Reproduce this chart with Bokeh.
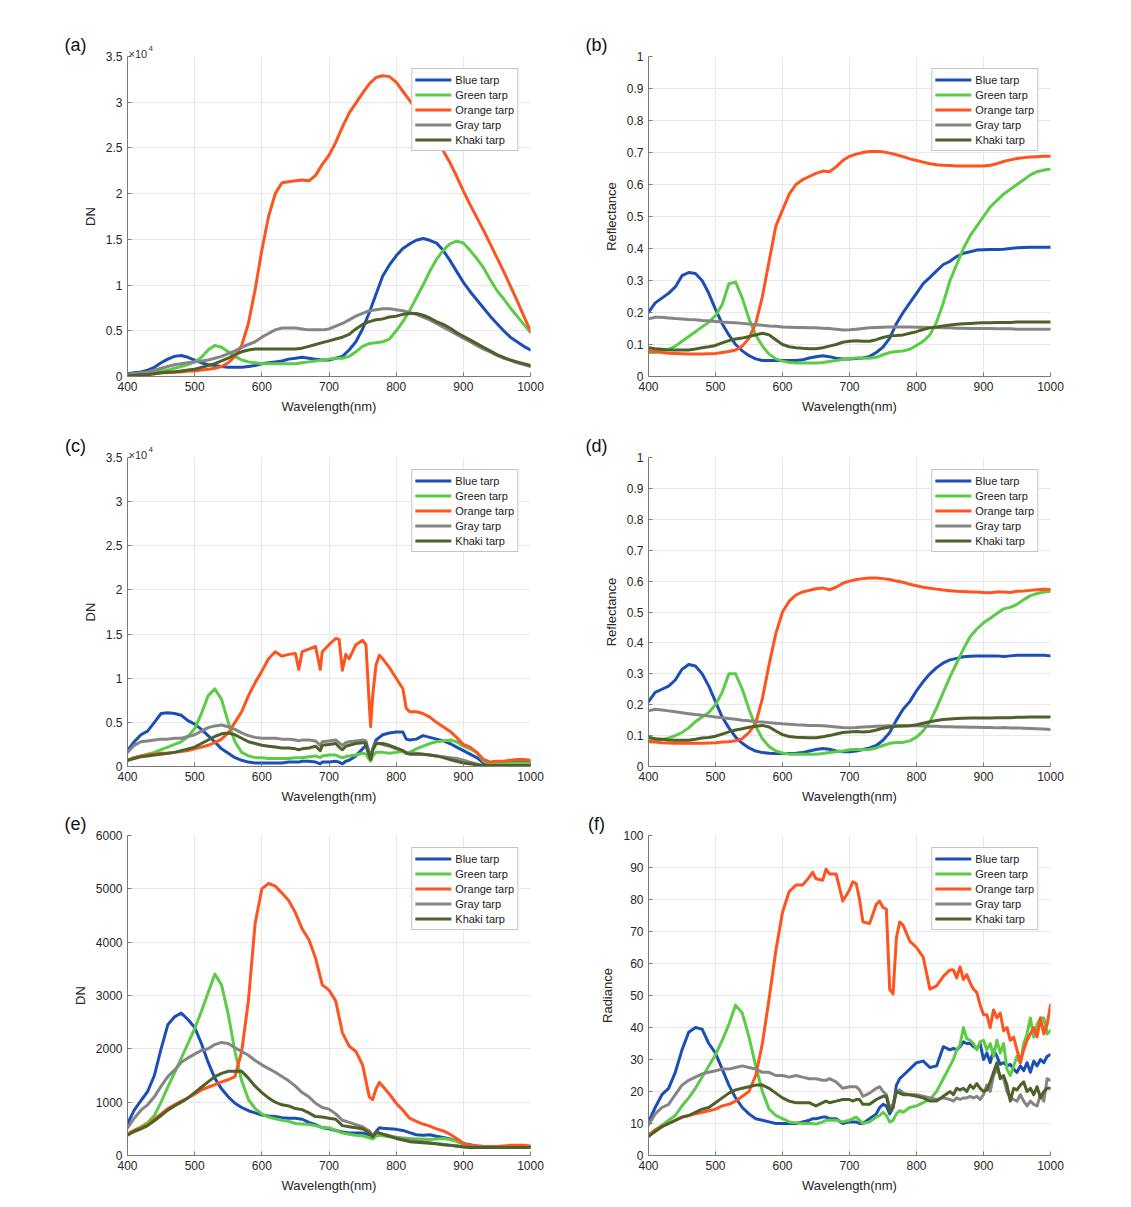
from bokeh.plotting import figure
from bokeh.models import Range1d, FixedTicker, Legend, LegendItem, Label
from bokeh.layouts import column, row
from bokeh.embed import file_html
from bokeh.resources import INLINE

FONT = "Liberation Sans"
NAMES = ["Blue tarp", "Green tarp", "Orange tarp", "Gray tarp", "Khaki tarp"]
COLORS = ["#1c4fb6", "#5ccb48", "#fd5420", "#858585", "#4d6129"]
X_TICKS = [400, 500, 600, 700, 800, 900, 1000]

# ---------------- wavelengths (nm) ----------------
WL10 = [400, 410, 420, 430, 440, 450, 460, 470, 480, 490,
        500, 510, 520, 530, 540, 550, 560, 570, 580, 590,
        600, 610, 620, 630, 640, 650, 660, 670, 680, 690,
        700, 710, 720, 730, 740, 750, 760, 770, 780, 790,
        800, 810, 820, 830, 840, 850, 860, 870, 880, 890,
        900, 910, 920, 930, 940, 950, 960, 970, 980, 990, 1000]

C_WL = [400, 410, 420, 430, 440, 450, 460, 470, 480, 490,
        500, 510, 520, 530, 540, 550, 560, 570, 580, 590,
        600, 610, 620, 630, 640, 650, 655, 660, 670, 680,
        687, 690, 700, 710, 715, 720, 725, 730, 740, 750,
        755, 760, 762, 765, 770, 775, 780, 790, 800, 810,
        815, 820, 830, 840, 850, 860, 870, 880, 890, 900,
        910, 920, 930, 940, 950, 960, 970, 980, 990, 1000]

E_WL = [400, 410, 420, 430, 440, 450, 460, 470, 480, 490,
        500, 510, 520, 530, 540, 550, 560, 570, 580, 590,
        600, 610, 620, 630, 640, 650, 660, 670, 680, 690,
        700, 710, 720, 730, 740, 750, 760, 765, 770, 775,
        780, 790, 800, 810, 820, 830, 840, 850, 860, 870,
        880, 890, 900, 910, 920, 930, 940, 950, 960, 970,
        980, 990, 1000]

F_WL = [400, 410, 420, 430, 440, 450, 460, 470, 480, 490,
        500, 510, 520, 530, 540, 550, 560, 570, 580, 590,
        600, 610, 620, 630, 640, 645, 650, 660, 665, 670,
        680, 690, 700, 705, 710, 715, 720, 730, 740, 745,
        750, 755, 760, 765, 770, 775, 780, 790, 800, 810,
        820, 830, 840, 850, 855, 860, 865, 870, 875, 880,
        885, 890, 895, 900, 905, 910, 915, 920, 925, 930,
        935, 940, 945, 950, 955, 960, 965, 970, 975, 980,
        985, 990, 995, 1000]

# ---------------- (a) DN, x10^4 ----------------
a_blue = [0.03, 0.04, 0.05, 0.07, 0.10, 0.15, 0.19, 0.22, 0.23, 0.21,
          0.18, 0.15, 0.13, 0.12, 0.11, 0.10, 0.10, 0.10, 0.11, 0.12,
          0.14, 0.15, 0.16, 0.17, 0.19, 0.20, 0.21, 0.20, 0.19, 0.18,
          0.18, 0.20, 0.22, 0.29, 0.38, 0.52, 0.70, 0.90, 1.10, 1.22,
          1.32, 1.40, 1.45, 1.49, 1.51, 1.49, 1.46, 1.38, 1.27, 1.15,
          1.03, 0.93, 0.84, 0.75, 0.66, 0.58, 0.50, 0.43, 0.38, 0.33, 0.29]
a_green = [0.02, 0.03, 0.03, 0.04, 0.05, 0.06, 0.07, 0.09, 0.11, 0.13,
           0.16, 0.21, 0.29, 0.34, 0.32, 0.27, 0.22, 0.18, 0.16, 0.15,
           0.14, 0.14, 0.14, 0.14, 0.14, 0.14, 0.15, 0.16, 0.17, 0.18,
           0.19, 0.20, 0.20, 0.22, 0.27, 0.33, 0.36, 0.37, 0.38, 0.41,
           0.50, 0.60, 0.72, 0.86, 1.00, 1.15, 1.28, 1.38, 1.45, 1.48,
           1.46, 1.38, 1.29, 1.19, 1.06, 0.94, 0.85, 0.75, 0.66, 0.57, 0.48]
a_orange = [0.02, 0.02, 0.03, 0.03, 0.03, 0.04, 0.04, 0.05, 0.05, 0.06,
            0.06, 0.07, 0.08, 0.09, 0.11, 0.15, 0.22, 0.34, 0.58, 0.95,
            1.38, 1.75, 2.00, 2.12, 2.13, 2.14, 2.15, 2.14, 2.20, 2.32,
            2.42, 2.56, 2.73, 2.88, 2.99, 3.10, 3.20, 3.27, 3.29, 3.28,
            3.22, 3.12, 3.02, 2.92, 2.82, 2.70, 2.58, 2.47, 2.34, 2.19,
            2.03, 1.88, 1.74, 1.60, 1.45, 1.30, 1.15, 0.99, 0.83, 0.66, 0.50]
a_gray = [0.02, 0.03, 0.04, 0.05, 0.07, 0.09, 0.11, 0.13, 0.14, 0.15,
          0.16, 0.17, 0.18, 0.20, 0.22, 0.25, 0.28, 0.32, 0.35, 0.38,
          0.43, 0.47, 0.51, 0.53, 0.53, 0.53, 0.52, 0.51, 0.51, 0.51,
          0.52, 0.55, 0.58, 0.62, 0.66, 0.69, 0.72, 0.73, 0.74, 0.74,
          0.73, 0.72, 0.70, 0.68, 0.65, 0.62, 0.58, 0.54, 0.50, 0.46,
          0.42, 0.38, 0.34, 0.30, 0.27, 0.23, 0.20, 0.18, 0.15, 0.13, 0.11]
a_khaki = [0.01, 0.01, 0.02, 0.02, 0.03, 0.04, 0.05, 0.05, 0.06, 0.07,
           0.08, 0.10, 0.12, 0.14, 0.17, 0.20, 0.24, 0.27, 0.29, 0.30,
           0.30, 0.30, 0.30, 0.30, 0.30, 0.30, 0.31, 0.33, 0.35, 0.37,
           0.39, 0.41, 0.43, 0.46, 0.52, 0.57, 0.60, 0.62, 0.63, 0.65,
           0.66, 0.68, 0.69, 0.69, 0.67, 0.64, 0.60, 0.57, 0.53, 0.48,
           0.44, 0.40, 0.36, 0.32, 0.28, 0.24, 0.21, 0.18, 0.16, 0.14, 0.12]

# ---------------- (b) Reflectance ----------------
b_blue = [0.200, 0.230, 0.245, 0.260, 0.280, 0.315, 0.325, 0.322, 0.300, 0.260,
          0.210, 0.165, 0.130, 0.100, 0.080, 0.065, 0.055, 0.050, 0.050, 0.050,
          0.050, 0.050, 0.050, 0.052, 0.058, 0.062, 0.065, 0.062, 0.057, 0.055,
          0.055, 0.056, 0.058, 0.063, 0.075, 0.092, 0.120, 0.165, 0.200, 0.230,
          0.260, 0.290, 0.310, 0.330, 0.350, 0.360, 0.375, 0.385, 0.390, 0.395,
          0.396, 0.397, 0.397, 0.398, 0.400, 0.402, 0.403, 0.404, 0.404, 0.404, 0.404]
b_green = [0.075, 0.075, 0.080, 0.085, 0.095, 0.110, 0.125, 0.140, 0.155, 0.170,
           0.190, 0.225, 0.290, 0.295, 0.245, 0.180, 0.130, 0.095, 0.070, 0.055,
           0.048, 0.044, 0.042, 0.042, 0.042, 0.042, 0.044, 0.047, 0.050, 0.053,
           0.056, 0.058, 0.058, 0.057, 0.060, 0.068, 0.075, 0.078, 0.080, 0.085,
           0.097, 0.110, 0.130, 0.170, 0.230, 0.300, 0.350, 0.400, 0.440, 0.470,
           0.500, 0.530, 0.550, 0.570, 0.585, 0.600, 0.615, 0.630, 0.640, 0.645, 0.648]
b_orange = [0.080, 0.078, 0.075, 0.073, 0.072, 0.071, 0.070, 0.070, 0.070, 0.071,
            0.072, 0.075, 0.078, 0.083, 0.095, 0.120, 0.165, 0.250, 0.360, 0.470,
            0.520, 0.570, 0.600, 0.615, 0.625, 0.635, 0.642, 0.640, 0.655, 0.675,
            0.688, 0.695, 0.700, 0.703, 0.703, 0.702, 0.698, 0.693, 0.687, 0.680,
            0.675, 0.670, 0.665, 0.662, 0.660, 0.659, 0.658, 0.658, 0.658, 0.658,
            0.658, 0.660, 0.665, 0.672, 0.677, 0.681, 0.684, 0.686, 0.687, 0.688, 0.688]
b_gray = [0.180, 0.185, 0.185, 0.183, 0.181, 0.180, 0.178, 0.177, 0.175, 0.174,
          0.172, 0.170, 0.169, 0.168, 0.166, 0.164, 0.162, 0.160, 0.158, 0.157,
          0.155, 0.154, 0.153, 0.153, 0.152, 0.152, 0.151, 0.150, 0.148, 0.145,
          0.146, 0.148, 0.150, 0.152, 0.153, 0.154, 0.155, 0.155, 0.155, 0.155,
          0.154, 0.154, 0.153, 0.153, 0.152, 0.152, 0.151, 0.151, 0.150, 0.150,
          0.150, 0.150, 0.149, 0.149, 0.149, 0.148, 0.148, 0.148, 0.148, 0.148, 0.148]
b_khaki = [0.090, 0.087, 0.085, 0.083, 0.083, 0.083, 0.083, 0.086, 0.090, 0.093,
           0.097, 0.105, 0.112, 0.117, 0.120, 0.125, 0.130, 0.135, 0.130, 0.115,
           0.100, 0.093, 0.090, 0.088, 0.087, 0.087, 0.090, 0.095, 0.100, 0.107,
           0.110, 0.112, 0.110, 0.110, 0.115, 0.122, 0.127, 0.128, 0.130, 0.135,
           0.140, 0.147, 0.152, 0.155, 0.158, 0.161, 0.163, 0.165, 0.166, 0.167,
           0.168, 0.168, 0.169, 0.169, 0.169, 0.170, 0.170, 0.170, 0.170, 0.170, 0.170]

# ---------------- (c) DN, x10^4 ----------------
c_blue = [0.18, 0.28, 0.36, 0.40, 0.50, 0.60, 0.61, 0.60, 0.58, 0.52,
          0.48, 0.42, 0.35, 0.28, 0.20, 0.15, 0.10, 0.07, 0.05, 0.04,
          0.04, 0.04, 0.04, 0.04, 0.05, 0.05, 0.05, 0.06, 0.06, 0.05,
          0.03, 0.05, 0.05, 0.06, 0.05, 0.03, 0.06, 0.07, 0.12, 0.20,
          0.24, 0.12, 0.07, 0.20, 0.30, 0.33, 0.36, 0.38, 0.39, 0.39,
          0.31, 0.30, 0.31, 0.35, 0.33, 0.31, 0.29, 0.26, 0.22, 0.18,
          0.14, 0.10, 0.04, 0.04, 0.05, 0.05, 0.05, 0.05, 0.05, 0.05]
c_green = [0.07, 0.10, 0.12, 0.14, 0.16, 0.19, 0.22, 0.25, 0.28, 0.34,
           0.43, 0.60, 0.80, 0.88, 0.76, 0.50, 0.28, 0.16, 0.12, 0.10,
           0.10, 0.09, 0.09, 0.09, 0.09, 0.10, 0.10, 0.10, 0.11, 0.12,
           0.10, 0.12, 0.13, 0.13, 0.11, 0.10, 0.11, 0.12, 0.13, 0.15,
           0.14, 0.08, 0.06, 0.12, 0.16, 0.16, 0.16, 0.15, 0.16, 0.17,
           0.15, 0.16, 0.20, 0.23, 0.26, 0.28, 0.29, 0.30, 0.28, 0.23,
           0.20, 0.16, 0.06, 0.04, 0.04, 0.04, 0.04, 0.04, 0.04, 0.04]
c_orange = [0.07, 0.10, 0.12, 0.13, 0.14, 0.15, 0.15, 0.16, 0.17, 0.18,
            0.20, 0.22, 0.24, 0.27, 0.31, 0.38, 0.50, 0.62, 0.80, 0.95,
            1.08, 1.22, 1.30, 1.25, 1.27, 1.28, 1.10, 1.30, 1.33, 1.36,
            1.10, 1.30, 1.38, 1.45, 1.44, 1.09, 1.27, 1.22, 1.38, 1.43,
            1.38, 0.70, 0.45, 0.80, 1.15, 1.26, 1.22, 1.12, 1.00, 0.88,
            0.66, 0.62, 0.62, 0.60, 0.56, 0.50, 0.45, 0.40, 0.33, 0.25,
            0.22, 0.16, 0.08, 0.05, 0.06, 0.06, 0.07, 0.08, 0.08, 0.07]
c_gray = [0.16, 0.24, 0.28, 0.29, 0.30, 0.31, 0.31, 0.32, 0.32, 0.34,
          0.36, 0.40, 0.44, 0.46, 0.47, 0.45, 0.42, 0.38, 0.35, 0.33,
          0.32, 0.32, 0.32, 0.31, 0.31, 0.30, 0.29, 0.30, 0.30, 0.29,
          0.24, 0.28, 0.29, 0.30, 0.27, 0.24, 0.27, 0.28, 0.29, 0.30,
          0.29, 0.15, 0.10, 0.20, 0.27, 0.26, 0.25, 0.23, 0.20, 0.18,
          0.16, 0.15, 0.15, 0.14, 0.13, 0.12, 0.11, 0.10, 0.09, 0.07,
          0.05, 0.03, 0.01, 0.01, 0.01, 0.01, 0.01, 0.01, 0.01, 0.01]
c_khaki = [0.07, 0.09, 0.11, 0.12, 0.13, 0.14, 0.15, 0.16, 0.18, 0.20,
           0.22, 0.26, 0.30, 0.34, 0.37, 0.38, 0.36, 0.32, 0.28, 0.26,
           0.24, 0.23, 0.22, 0.21, 0.21, 0.20, 0.19, 0.20, 0.21, 0.23,
           0.18, 0.24, 0.25, 0.26, 0.22, 0.19, 0.23, 0.24, 0.26, 0.27,
           0.26, 0.12, 0.08, 0.18, 0.26, 0.26, 0.26, 0.24, 0.21, 0.18,
           0.15, 0.14, 0.14, 0.14, 0.13, 0.12, 0.10, 0.08, 0.06, 0.04,
           0.03, 0.02, 0.01, 0.01, 0.01, 0.01, 0.01, 0.01, 0.01, 0.01]

# ---------------- (d) Reflectance ----------------
d_blue = [0.210, 0.240, 0.250, 0.260, 0.280, 0.315, 0.330, 0.325, 0.300, 0.260,
          0.210, 0.160, 0.125, 0.095, 0.075, 0.060, 0.050, 0.045, 0.043, 0.042,
          0.042, 0.042, 0.043, 0.045, 0.050, 0.055, 0.058, 0.056, 0.050, 0.048,
          0.048, 0.050, 0.055, 0.060, 0.068, 0.085, 0.110, 0.150, 0.185, 0.210,
          0.245, 0.275, 0.300, 0.320, 0.335, 0.345, 0.350, 0.355, 0.357, 0.358,
          0.358, 0.358, 0.358, 0.356, 0.358, 0.360, 0.360, 0.360, 0.360, 0.360, 0.358]
d_green = [0.085, 0.085, 0.087, 0.092, 0.100, 0.110, 0.125, 0.145, 0.160, 0.175,
           0.200, 0.240, 0.300, 0.300, 0.250, 0.185, 0.130, 0.090, 0.065, 0.050,
           0.044, 0.040, 0.040, 0.040, 0.040, 0.040, 0.042, 0.045, 0.048, 0.050,
           0.054, 0.056, 0.054, 0.055, 0.060, 0.068, 0.075, 0.078, 0.078, 0.083,
           0.095, 0.115, 0.145, 0.190, 0.240, 0.290, 0.335, 0.380, 0.420, 0.445,
           0.465, 0.480, 0.495, 0.510, 0.515, 0.525, 0.540, 0.553, 0.560, 0.565, 0.567]
d_orange = [0.080, 0.079, 0.077, 0.076, 0.075, 0.075, 0.075, 0.075, 0.075, 0.076,
            0.077, 0.079, 0.080, 0.083, 0.090, 0.110, 0.140, 0.220, 0.330, 0.430,
            0.500, 0.535, 0.555, 0.565, 0.570, 0.575, 0.578, 0.572, 0.580, 0.593,
            0.600, 0.605, 0.608, 0.610, 0.610, 0.608, 0.605, 0.600, 0.596, 0.590,
            0.585, 0.580, 0.577, 0.574, 0.571, 0.569, 0.567, 0.566, 0.565, 0.565,
            0.563, 0.562, 0.565, 0.565, 0.563, 0.567, 0.568, 0.570, 0.572, 0.574, 0.573]
d_gray = [0.180, 0.185, 0.183, 0.180, 0.177, 0.174, 0.171, 0.168, 0.166, 0.163,
          0.160, 0.158, 0.155, 0.153, 0.150, 0.148, 0.145, 0.144, 0.142, 0.140,
          0.138, 0.137, 0.135, 0.134, 0.133, 0.133, 0.132, 0.130, 0.128, 0.126,
          0.125, 0.126, 0.128, 0.129, 0.130, 0.131, 0.132, 0.132, 0.132, 0.132,
          0.132, 0.131, 0.130, 0.130, 0.129, 0.129, 0.128, 0.128, 0.127, 0.127,
          0.126, 0.126, 0.125, 0.126, 0.125, 0.125, 0.124, 0.123, 0.122, 0.121, 0.120]
d_khaki = [0.095, 0.090, 0.088, 0.086, 0.085, 0.085, 0.085, 0.088, 0.092, 0.094,
           0.098, 0.105, 0.112, 0.118, 0.122, 0.127, 0.130, 0.133, 0.128, 0.115,
           0.103, 0.097, 0.095, 0.094, 0.093, 0.093, 0.096, 0.100, 0.105, 0.110,
           0.112, 0.113, 0.112, 0.113, 0.118, 0.124, 0.128, 0.130, 0.131, 0.132,
           0.135, 0.140, 0.145, 0.149, 0.152, 0.154, 0.155, 0.156, 0.157, 0.157,
           0.157, 0.157, 0.158, 0.158, 0.158, 0.159, 0.159, 0.160, 0.160, 0.160, 0.160]

# ---------------- (e) DN ----------------
e_blue = [600, 850, 1030, 1200, 1500, 2000, 2450, 2600, 2670, 2550,
          2400, 2100, 1750, 1450, 1250, 1100, 980, 900, 840, 800,
          760, 740, 730, 710, 700, 700, 680, 620, 580, 520,
          500, 470, 440, 420, 420, 420, 390, 350, 450, 520,
          510, 500, 490, 470, 430, 390, 380, 390, 360, 340,
          310, 270, 220, 200, 180, 170, 170, 170, 170, 170,
          170, 170, 170]
e_green = [400, 470, 540, 620, 750, 1000, 1280, 1550, 1820, 2100,
           2380, 2700, 3050, 3400, 3200, 2650, 1950, 1400, 1050, 880,
           780, 720, 690, 660, 640, 600, 590, 580, 560, 520,
           520, 470, 420, 400, 380, 370, 330, 310, 360, 380,
           370, 350, 340, 330, 320, 310, 310, 300, 310, 320,
           300, 270, 220, 180, 170, 160, 160, 160, 170, 170,
           170, 170, 170]
e_orange = [400, 470, 520, 580, 680, 780, 880, 950, 1020, 1080,
            1150, 1230, 1280, 1330, 1380, 1420, 1480, 1950, 2900, 4350,
            5000, 5100, 5050, 4920, 4780, 4550, 4250, 4050, 3700, 3200,
            3100, 2900, 2300, 2050, 1950, 1700, 1100, 1050, 1250, 1370,
            1300, 1150, 980, 850, 700, 640, 590, 550, 500, 460,
            400, 320, 230, 190, 180, 170, 170, 170, 180, 190,
            190, 190, 180]
e_gray = [520, 700, 850, 950, 1100, 1300, 1480, 1600, 1750, 1830,
          1900, 1970, 2000, 2080, 2120, 2100, 2020, 1950, 1880, 1780,
          1700, 1630, 1560, 1480, 1400, 1300, 1180, 1100, 980, 900,
          870, 780, 660, 620, 580, 540, 460, 380, 440, 420,
          400, 370, 340, 310, 280, 270, 260, 240, 220, 210,
          190, 180, 170, 160, 150, 150, 150, 150, 150, 150,
          150, 150, 150]
e_khaki = [380, 450, 500, 560, 650, 750, 850, 930, 1000, 1080,
           1180, 1280, 1380, 1480, 1540, 1580, 1580, 1580, 1450, 1300,
           1180, 1080, 1000, 950, 930, 880, 860, 800, 730, 720,
           700, 680, 560, 540, 520, 500, 420, 350, 430, 420,
           400, 360, 320, 290, 260, 250, 240, 230, 220, 200,
           190, 180, 160, 150, 150, 150, 150, 150, 150, 150,
           150, 150, 150]

# ---------------- (f) Radiance ----------------
f_blue = [10.5, 15, 19, 21, 26, 33, 38.5, 40, 39.5, 35,
          32, 27, 22, 18, 15, 13, 11.5, 11, 10.5, 10,
          10, 10, 10, 10.5, 11, 11.5, 11.5, 12, 12, 11.5,
          11.5, 10, 10.5, 10.5, 10.5, 10, 10, 11.5, 13, 15,
          16, 15.5, 13, 15, 22, 24, 25, 27, 29, 29.5,
          27.5, 28, 34, 33, 33.5, 33, 34, 35.5, 35, 35,
          34, 33.5, 35, 30, 32, 29, 33, 31, 28.5, 29,
          28, 28.5, 27, 26, 28, 26.5, 29, 26, 29.5, 28,
          30, 29, 31, 31.5]
f_green = [6.5, 8, 9.5, 11, 12.5, 15.5, 18, 21, 24.5, 28,
           31.5, 36, 41, 47, 44.5, 37, 28, 20, 14.5, 12.5,
           11.5, 10.5, 10.2, 10, 10, 10, 9.8, 10.5, 11, 11,
           11, 10.5, 11, 11.5, 12, 11, 10, 10.5, 12, 12.5,
           13.5, 12.5, 10.5, 11, 13, 14, 13.5, 15, 15.5, 16.5,
           17.5, 20, 24, 28, 30, 33, 34.5, 40, 36.5, 36,
           35, 33, 35.5, 36, 33, 35, 31, 36, 32, 35,
           27, 25, 28, 31, 29, 35, 38, 43, 37, 41,
           43, 43, 38, 39]
f_orange = [6, 8, 9, 10, 11, 12, 12.5, 13, 13.5, 14,
            14.5, 15.5, 16, 17, 18.5, 20, 25, 35, 49, 64,
            76, 82.5, 84.5, 84.5, 87, 88.5, 86.5, 86, 89.5, 88,
            88, 79.5, 83, 85.5, 85, 80, 73, 72.5, 78.5, 79.5,
            77.5, 77, 52, 50.5, 68, 73, 72, 67, 65, 62,
            52, 53, 56, 58, 58, 55.5, 59, 55, 56.5, 54,
            52, 51, 47, 44, 44, 40, 45.5, 43, 44.5, 39,
            40, 36, 37, 33, 29, 33, 36, 38, 40, 37,
            43, 38, 41, 47]
f_gray = [9.5, 13, 15, 16, 19, 22, 23.5, 24.5, 25.5, 26,
          26.5, 27, 27, 27.5, 28, 27.5, 27, 26, 26, 25,
          25, 24.5, 25, 24.5, 24, 24, 24, 23.5, 23.5, 24,
          23, 21, 21.5, 21.5, 21.5, 20.5, 18.5, 19.5, 21, 21.5,
          20, 19, 15, 16, 20, 20.5, 19.5, 19, 19, 18.5,
          18, 17.5, 18, 17.5, 17, 18, 17.5, 18, 18, 18.5,
          18, 18.5, 17.5, 19, 22, 20, 25, 27, 25, 24,
          20, 18, 17.5, 17, 19, 17, 15.5, 17, 16, 15.5,
          19, 17, 24, 23.5]
f_khaki = [6, 7.5, 9, 10, 11, 12, 12.5, 13.5, 14.5, 15,
           16.5, 18, 19.5, 20.5, 21, 21.5, 22, 22, 21, 19.5,
           18, 17, 16.5, 16.5, 16.5, 16, 15.5, 16.5, 17, 16.5,
           17, 17.5, 17.5, 17, 17.5, 17.5, 16, 16, 17.5, 18,
           18.5, 18.5, 14, 15, 20, 19.5, 19, 19, 18.5, 18,
           17, 17, 18.5, 20, 19, 21, 20.5, 21, 20, 22,
           21, 22.5, 21, 20, 20.5, 23, 26, 29, 24, 25,
           22, 17, 21, 20.5, 22, 23, 20, 21, 19, 21.5,
           18, 20, 21, 21]

# ---------------- y axes ----------------
DN4_TICKS = [0, 0.5, 1, 1.5, 2, 2.5, 3, 3.5]
DN4_LABELS = ["0", "0.5", "1", "1.5", "2", "2.5", "3", "3.5"]
REF_TICKS = [0, 0.1, 0.2, 0.3, 0.4, 0.5, 0.6, 0.7, 0.8, 0.9, 1]
REF_LABELS = ["0", "0.1", "0.2", "0.3", "0.4", "0.5", "0.6", "0.7", "0.8", "0.9", "1"]
DN_TICKS = [0, 1000, 2000, 3000, 4000, 5000, 6000]
DN_LABELS = ["0", "1000", "2000", "3000", "4000", "5000", "6000"]
RAD_TICKS = [0, 10, 20, 30, 40, 50, 60, 70, 80, 90, 100]
RAD_LABELS = ["0", "10", "20", "30", "40", "50", "60", "70", "80", "90", "100"]

FH = 320


def build(tag, wl, ys, y_end, y_ticks, y_labels, ylabel, fw, left, right, top, bottom, exponent=False):
    p = figure(width=left + fw + right, height=top + FH + bottom,
               x_range=Range1d(400, 1000), y_range=Range1d(0, y_end),
               output_backend="svg", toolbar_location=None, title=None,
               min_border_left=left, min_border_right=right,
               min_border_top=top, min_border_bottom=bottom)
    p.outline_line_color = None
    p.background_fill_color = "white"
    p.border_fill_color = "white"
    p.xaxis.ticker = FixedTicker(ticks=X_TICKS)
    p.yaxis.ticker = FixedTicker(ticks=y_ticks)
    p.yaxis.major_label_overrides = {t: l for t, l in zip(y_ticks, y_labels)}
    p.xaxis.major_label_overrides = {t: str(t) for t in X_TICKS}
    p.xaxis.axis_label = "Wavelength(nm)"
    p.yaxis.axis_label = ylabel
    for ax in (p.xaxis[0], p.yaxis[0]):
        ax.axis_line_color = "#7a7a7a"
        ax.major_tick_line_color = "#7a7a7a"
        ax.major_tick_in = 4
        ax.major_tick_out = 0
        ax.minor_tick_line_color = None
        ax.major_label_text_font = FONT
        ax.major_label_text_font_size = "12px"
        ax.major_label_text_color = "#262626"
        ax.axis_label_text_font = FONT
        ax.axis_label_text_font_size = "13px"
        ax.axis_label_text_font_style = "normal"
        ax.axis_label_text_color = "#262626"
        ax.major_label_standoff = 5
        ax.axis_label_standoff = 5
    p.xgrid.grid_line_color = "#e8e8e8"
    p.ygrid.grid_line_color = "#e8e8e8"

    items = []
    for name, color, y in zip(NAMES, COLORS, ys):
        r = p.line(wl, y, line_color=color, line_width=3, line_join="round", line_cap="round")
        items.append(LegendItem(label=name, renderers=[r]))
    legend = Legend(items=items, location="top_right", margin=12, padding=3, spacing=0,
                    label_height=15, glyph_height=15, glyph_width=36, label_standoff=4,
                    label_text_font=FONT, label_text_font_size="11px", label_text_color="#1a1a1a",
                    border_line_color="#8c8c8c", border_line_width=1,
                    background_fill_color="white", background_fill_alpha=1)
    p.add_layout(legend)

    def fx(dx):
        return 400 + dx * 600.0 / fw

    def fy(dy):
        return y_end - dy * y_end / FH

    # annotations placed in the "above" side panel so they are not clipped to the frame
    p.add_layout(Label(x=fx(-52), y=fy(-12), text=tag, text_align="center", text_baseline="middle",
                       text_font=FONT, text_font_size="18px", text_color="#111111"), "above")
    if exponent:
        p.add_layout(Label(x=fx(1), y=fy(-3), text="\u00d710", text_align="left", text_baseline="alphabetic",
                           text_font=FONT, text_font_size="11px", text_color="#333333"), "above")
        p.add_layout(Label(x=fx(21), y=fy(-8), text="4", text_align="left", text_baseline="alphabetic",
                           text_font=FONT, text_font_size="8px", text_color="#333333"), "above")
    return p


LW, LL, LR = 403, 127, 15
RW, RL, RR = 402, 103, 20

pa = build("(a)", WL10, [a_blue, a_green, a_orange, a_gray, a_khaki], 3.5, DN4_TICKS, DN4_LABELS, "DN",
           LW, LL, LR, 56, 44, exponent=True)
pb = build("(b)", WL10, [b_blue, b_green, b_orange, b_gray, b_khaki], 1, REF_TICKS, REF_LABELS, "Reflectance",
           RW, RL, RR, 56, 44)
pc = build("(c)", C_WL, [c_blue, c_green, c_orange, c_gray, c_khaki], 3.5, DN4_TICKS, DN4_LABELS, "DN",
           LW, LL, LR, 26, 44, exponent=True)
pd = build("(d)", WL10, [d_blue, d_green, d_orange, d_gray, d_khaki], 1, REF_TICKS, REF_LABELS, "Reflectance",
           RW, RL, RR, 26, 44)
pe = build("(e)", E_WL, [e_blue, e_green, e_orange, e_gray, e_khaki], 6000, DN_TICKS, DN_LABELS, "DN",
           LW, LL, LR, 25, 42)
pf = build("(f)", F_WL, [f_blue, f_green, f_orange, f_gray, f_khaki], 100, RAD_TICKS, RAD_LABELS, "Radiance",
           RW, RL, RR, 25, 42)

layout = column(row(pa, pb), row(pc, pd), row(pe, pf))

open("out.html", "w").write(file_html(layout, INLINE, "Tarp spectra"))
